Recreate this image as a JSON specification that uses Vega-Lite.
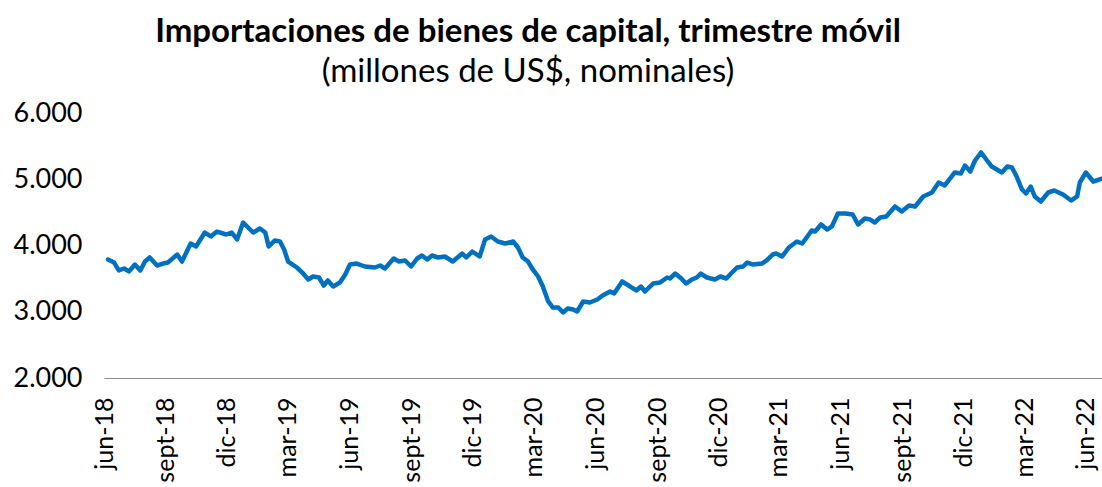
{
  "$schema": "https://vega.github.io/schema/vega-lite/v6.json",
  "autosize": {"type": "none"},
  "width": 998,
  "height": 265,
  "padding": {"left": 104, "top": 113, "right": 0, "bottom": 109},
  "background": "white",
  "config": {"view": {"stroke": null}, "font": "Lato"},
  "title": {
    "text": "Importaciones de bienes de capital, trimestre móvil",
    "subtitle": "(millones de US$, nominales)",
    "anchor": "middle",
    "frame": "group",
    "dx": -75,
    "offset": 10,
    "font": "Lato",
    "fontSize": 33,
    "fontWeight": "bold",
    "color": "#000000",
    "subtitleFont": "Lato",
    "subtitleFontSize": 33,
    "subtitleColor": "#000000",
    "subtitlePadding": 7
  },
  "data": {
    "values": [
      {"fecha": "2018-06-07", "valor": 3789},
      {"fecha": "2018-06-16", "valor": 3743},
      {"fecha": "2018-06-23", "valor": 3623},
      {"fecha": "2018-07-01", "valor": 3653},
      {"fecha": "2018-07-08", "valor": 3608},
      {"fecha": "2018-07-17", "valor": 3713},
      {"fecha": "2018-07-25", "valor": 3623},
      {"fecha": "2018-08-01", "valor": 3758},
      {"fecha": "2018-08-08", "valor": 3819},
      {"fecha": "2018-08-19", "valor": 3698},
      {"fecha": "2018-08-28", "valor": 3728},
      {"fecha": "2018-09-04", "valor": 3743},
      {"fecha": "2018-09-18", "valor": 3864},
      {"fecha": "2018-09-25", "valor": 3758},
      {"fecha": "2018-10-08", "valor": 4030},
      {"fecha": "2018-10-16", "valor": 3985},
      {"fecha": "2018-10-29", "valor": 4196},
      {"fecha": "2018-11-07", "valor": 4136},
      {"fecha": "2018-11-16", "valor": 4211},
      {"fecha": "2018-11-30", "valor": 4166},
      {"fecha": "2018-12-08", "valor": 4196},
      {"fecha": "2018-12-16", "valor": 4091},
      {"fecha": "2018-12-25", "valor": 4347},
      {"fecha": "2019-01-09", "valor": 4196},
      {"fecha": "2019-01-19", "valor": 4257},
      {"fecha": "2019-01-27", "valor": 4196},
      {"fecha": "2019-02-01", "valor": 3985},
      {"fecha": "2019-02-10", "valor": 4075},
      {"fecha": "2019-02-18", "valor": 4060},
      {"fecha": "2019-02-24", "valor": 3940},
      {"fecha": "2019-03-02", "valor": 3758},
      {"fecha": "2019-03-15", "valor": 3668},
      {"fecha": "2019-03-23", "valor": 3592},
      {"fecha": "2019-04-01", "valor": 3487},
      {"fecha": "2019-04-08", "valor": 3532},
      {"fecha": "2019-04-17", "valor": 3517},
      {"fecha": "2019-04-24", "valor": 3396},
      {"fecha": "2019-04-30", "valor": 3472},
      {"fecha": "2019-05-08", "valor": 3381},
      {"fecha": "2019-05-18", "valor": 3441},
      {"fecha": "2019-05-26", "valor": 3562},
      {"fecha": "2019-06-02", "valor": 3713},
      {"fecha": "2019-06-12", "valor": 3728},
      {"fecha": "2019-06-24", "valor": 3683},
      {"fecha": "2019-07-09", "valor": 3668},
      {"fecha": "2019-07-17", "valor": 3698},
      {"fecha": "2019-07-24", "valor": 3653},
      {"fecha": "2019-08-06", "valor": 3804},
      {"fecha": "2019-08-14", "valor": 3758},
      {"fecha": "2019-08-23", "valor": 3774},
      {"fecha": "2019-09-01", "valor": 3683},
      {"fecha": "2019-09-10", "valor": 3804},
      {"fecha": "2019-09-17", "valor": 3849},
      {"fecha": "2019-09-25", "valor": 3789},
      {"fecha": "2019-10-02", "valor": 3849},
      {"fecha": "2019-10-11", "valor": 3819},
      {"fecha": "2019-10-21", "valor": 3834},
      {"fecha": "2019-11-02", "valor": 3758},
      {"fecha": "2019-11-16", "valor": 3879},
      {"fecha": "2019-11-22", "valor": 3819},
      {"fecha": "2019-12-01", "valor": 3909},
      {"fecha": "2019-12-12", "valor": 3834},
      {"fecha": "2019-12-20", "valor": 4091},
      {"fecha": "2019-12-29", "valor": 4136},
      {"fecha": "2020-01-08", "valor": 4060},
      {"fecha": "2020-01-19", "valor": 4030},
      {"fecha": "2020-01-31", "valor": 4060},
      {"fecha": "2020-02-07", "valor": 3970},
      {"fecha": "2020-02-14", "valor": 3819},
      {"fecha": "2020-02-22", "valor": 3758},
      {"fecha": "2020-02-29", "valor": 3638},
      {"fecha": "2020-03-08", "valor": 3532},
      {"fecha": "2020-03-15", "valor": 3381},
      {"fecha": "2020-03-23", "valor": 3155},
      {"fecha": "2020-03-30", "valor": 3064},
      {"fecha": "2020-04-07", "valor": 3064},
      {"fecha": "2020-04-14", "valor": 2989},
      {"fecha": "2020-04-21", "valor": 3049},
      {"fecha": "2020-04-29", "valor": 3034},
      {"fecha": "2020-05-05", "valor": 3004},
      {"fecha": "2020-05-14", "valor": 3155},
      {"fecha": "2020-05-24", "valor": 3140},
      {"fecha": "2020-06-04", "valor": 3185},
      {"fecha": "2020-06-12", "valor": 3245},
      {"fecha": "2020-06-23", "valor": 3306},
      {"fecha": "2020-06-29", "valor": 3275},
      {"fecha": "2020-07-11", "valor": 3457},
      {"fecha": "2020-07-23", "valor": 3381},
      {"fecha": "2020-08-01", "valor": 3321},
      {"fecha": "2020-08-08", "valor": 3381},
      {"fecha": "2020-08-14", "valor": 3306},
      {"fecha": "2020-08-26", "valor": 3426},
      {"fecha": "2020-09-05", "valor": 3441},
      {"fecha": "2020-09-16", "valor": 3517},
      {"fecha": "2020-09-20", "valor": 3502},
      {"fecha": "2020-09-28", "valor": 3577},
      {"fecha": "2020-10-07", "valor": 3502},
      {"fecha": "2020-10-14", "valor": 3426},
      {"fecha": "2020-10-23", "valor": 3487},
      {"fecha": "2020-10-30", "valor": 3517},
      {"fecha": "2020-11-05", "valor": 3577},
      {"fecha": "2020-11-14", "valor": 3517},
      {"fecha": "2020-11-26", "valor": 3487},
      {"fecha": "2020-12-04", "valor": 3532},
      {"fecha": "2020-12-13", "valor": 3502},
      {"fecha": "2020-12-20", "valor": 3577},
      {"fecha": "2020-12-29", "valor": 3668},
      {"fecha": "2021-01-07", "valor": 3683},
      {"fecha": "2021-01-13", "valor": 3743},
      {"fecha": "2021-01-22", "valor": 3713},
      {"fecha": "2021-02-04", "valor": 3728},
      {"fecha": "2021-02-11", "valor": 3774},
      {"fecha": "2021-02-20", "valor": 3864},
      {"fecha": "2021-02-25", "valor": 3879},
      {"fecha": "2021-03-06", "valor": 3834},
      {"fecha": "2021-03-16", "valor": 3970},
      {"fecha": "2021-03-28", "valor": 4060},
      {"fecha": "2021-04-05", "valor": 4030},
      {"fecha": "2021-04-19", "valor": 4226},
      {"fecha": "2021-04-24", "valor": 4211},
      {"fecha": "2021-05-03", "valor": 4317},
      {"fecha": "2021-05-12", "valor": 4241},
      {"fecha": "2021-05-19", "valor": 4287},
      {"fecha": "2021-05-28", "valor": 4483},
      {"fecha": "2021-06-08", "valor": 4483},
      {"fecha": "2021-06-19", "valor": 4468},
      {"fecha": "2021-06-27", "valor": 4317},
      {"fecha": "2021-07-07", "valor": 4407},
      {"fecha": "2021-07-15", "valor": 4392},
      {"fecha": "2021-07-22", "valor": 4347},
      {"fecha": "2021-07-30", "valor": 4423},
      {"fecha": "2021-08-08", "valor": 4438},
      {"fecha": "2021-08-21", "valor": 4589},
      {"fecha": "2021-08-31", "valor": 4513},
      {"fecha": "2021-09-11", "valor": 4604},
      {"fecha": "2021-09-20", "valor": 4589},
      {"fecha": "2021-10-02", "valor": 4740},
      {"fecha": "2021-10-15", "valor": 4800},
      {"fecha": "2021-10-25", "valor": 4951},
      {"fecha": "2021-11-03", "valor": 4906},
      {"fecha": "2021-11-18", "valor": 5102},
      {"fecha": "2021-11-27", "valor": 5087},
      {"fecha": "2021-12-03", "valor": 5207},
      {"fecha": "2021-12-11", "valor": 5117},
      {"fecha": "2021-12-18", "valor": 5283},
      {"fecha": "2021-12-27", "valor": 5404},
      {"fecha": "2022-01-05", "valor": 5283},
      {"fecha": "2022-01-12", "valor": 5192},
      {"fecha": "2022-01-27", "valor": 5102},
      {"fecha": "2022-02-04", "valor": 5192},
      {"fecha": "2022-02-11", "valor": 5177},
      {"fecha": "2022-02-18", "valor": 5041},
      {"fecha": "2022-02-26", "valor": 4845},
      {"fecha": "2022-03-04", "valor": 4785},
      {"fecha": "2022-03-11", "valor": 4890},
      {"fecha": "2022-03-17", "valor": 4740},
      {"fecha": "2022-03-26", "valor": 4664},
      {"fecha": "2022-04-06", "valor": 4800},
      {"fecha": "2022-04-15", "valor": 4830},
      {"fecha": "2022-04-28", "valor": 4770},
      {"fecha": "2022-05-10", "valor": 4679},
      {"fecha": "2022-05-19", "valor": 4740},
      {"fecha": "2022-05-23", "valor": 4951},
      {"fecha": "2022-06-01", "valor": 5102},
      {"fecha": "2022-06-12", "valor": 4966},
      {"fecha": "2022-06-25", "valor": 5011}
    ]
  },
  "mark": {"type": "line", "color": "#0070C0", "strokeWidth": 4.5, "strokeJoin": "round", "strokeCap": "round"},
  "encoding": {
    "x": {
      "field": "fecha",
      "type": "temporal",
      "scale": {"domain": [{"year": 2018, "month": 6, "date": 1}, {"year": 2022, "month": 6, "date": 25}]},
      "axis": {
        "title": null,
        "values": [
          {"year": 2018, "month": 6, "date": 1}, {"year": 2018, "month": 9, "date": 1}, {"year": 2018, "month": 12, "date": 1},
          {"year": 2019, "month": 3, "date": 1}, {"year": 2019, "month": 6, "date": 1}, {"year": 2019, "month": 9, "date": 1}, {"year": 2019, "month": 12, "date": 1},
          {"year": 2020, "month": 3, "date": 1}, {"year": 2020, "month": 6, "date": 1}, {"year": 2020, "month": 9, "date": 1}, {"year": 2020, "month": 12, "date": 1},
          {"year": 2021, "month": 3, "date": 1}, {"year": 2021, "month": 6, "date": 1}, {"year": 2021, "month": 9, "date": 1}, {"year": 2021, "month": 12, "date": 1},
          {"year": 2022, "month": 3, "date": 1}, {"year": 2022, "month": 6, "date": 1}
        ],
        "labelExpr": "['ene','feb','mar','abr','may','jun','jul','ago','sept','oct','nov','dic'][month(datum.value)] + '-' + timeFormat(datum.value, '%y')",
        "labelAngle": -90,
        "labelAlign": "right",
        "labelBaseline": "middle",
        "labelFont": "Lato",
        "labelFontSize": 25,
        "labelColor": "#000000",
        "labelPadding": 19,
        "labelOverlap": false,
        "labelFlush": false,
        "labelBound": false,
        "ticks": false,
        "tickSize": 0,
        "grid": false,
        "domain": true,
        "domainColor": "#8c8c8c",
        "domainWidth": 1.2
      }
    },
    "y": {
      "field": "valor",
      "type": "quantitative",
      "scale": {"domain": [2000, 6000], "nice": false, "zero": false},
      "axis": {
        "title": null,
        "values": [2000, 3000, 4000, 5000, 6000],
        "labelExpr": "replace(format(datum.value, ',.0f'), ',', '.')",
        "labelFont": "Lato",
        "labelFontSize": 27,
        "labelColor": "#000000",
        "labelPadding": 22,
        "ticks": false,
        "tickSize": 0,
        "grid": false,
        "domain": false
      }
    }
  }
}
